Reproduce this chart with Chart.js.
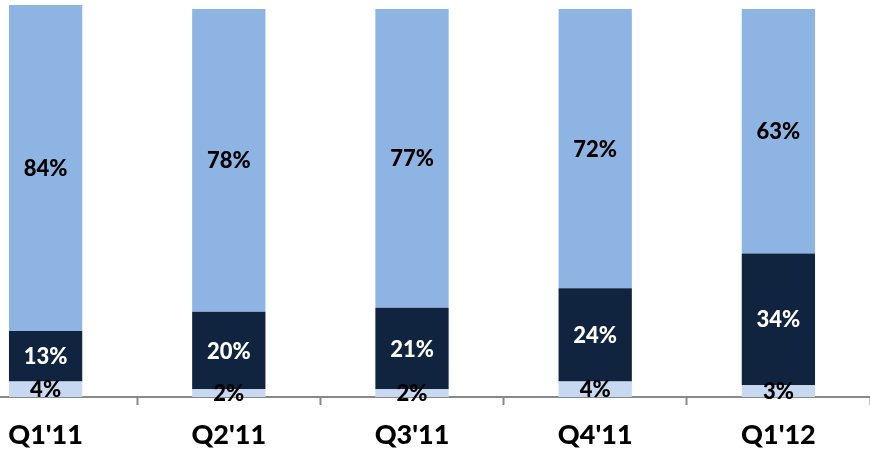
<!DOCTYPE html>
<html>
<head>
<meta charset="utf-8">
<script src="https://cdn.jsdelivr.net/npm/chart.js@4/dist/chart.umd.min.js"></script>
<style>
  html, body { margin: 0; padding: 0; background: #fff; overflow: hidden; }
  #wrap { position: absolute; left: -46px; top: 0; width: 916px; height: 454px; }
</style>
</head>
<body>
<div id="wrap"><canvas id="myChart"></canvas></div>
<script>
// quarters and share of each segment (percent)
const quarters = ["Q1'11", "Q2'11", "Q3'11", "Q4'11", "Q1'12"];
const bottomShare = [4, 2, 2, 4, 3];
const middleShare = [13, 20, 21, 24, 34];
const topShare = [84, 78, 77, 72, 63];

// draw the % value in the middle of every segment
const segmentLabels = {
    id: 'segmentLabels',
    afterDatasetsDraw(chart) {
        const ctx = chart.ctx;
        ctx.save();
        ctx.font = '900 22px Lato';
        ctx.textAlign = 'center';
        ctx.textBaseline = 'middle';
        chart.data.datasets.forEach((ds, i) => {
            const meta = chart.getDatasetMeta(i);
            ctx.fillStyle = ds.labelColor;
            meta.data.forEach((bar, j) => {
                const y = (bar.y + bar.base) / 2 + 1;
                ctx.fillText(ds.data[j] + '%', bar.x, y);
            });
        });
        ctx.restore();
    }
};

const ctx = document.getElementById('myChart').getContext('2d');
const myChart = new Chart(ctx, {
    type: 'bar',
    data: {
        labels: quarters,
        datasets: [{
            data: bottomShare,
            backgroundColor: '#c6d9f1',
            labelColor: '#000'
        }, {
            data: middleShare,
            backgroundColor: '#10243f',
            labelColor: '#fff'
        }, {
            data: topShare,
            backgroundColor: '#8eb4e3',
            labelColor: '#000'
        }]
    },
    options: {
        responsive: true,
        maintainAspectRatio: false,
        animation: false,
        layout: { padding: { top: 7, left: 0, right: 0, bottom: 0 } },
        datasets: {
            bar: { barPercentage: 0.4, categoryPercentage: 1, clip: false }
        },
        plugins: {
            legend: { display: false },
            tooltip: { enabled: false }
        },
        scales: {
            x: {
                stacked: true,
                afterFit(scale) { scale.height = 57; },
                grid: {
                    offset: true,
                    drawOnChartArea: false,
                    drawTicks: true,
                    tickLength: 8,
                    tickWidth: 2,
                    color: '#898989'
                },
                border: { display: true, color: '#898989', width: 2 },
                ticks: {
                    color: '#000',
                    padding: 14,
                    font: { family: 'Lato', size: 27, weight: '900' }
                }
            },
            y: {
                stacked: true,
                display: false,
                min: 0,
                max: 100.5
            }
        }
    },
    plugins: [segmentLabels]
});
</script>
</body>
</html>
